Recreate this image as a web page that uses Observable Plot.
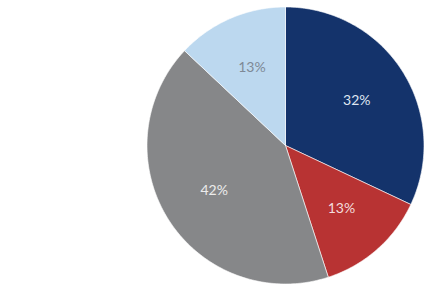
<!DOCTYPE html>
<html>
<head>
<meta charset="utf-8">
<script src="https://cdn.jsdelivr.net/npm/d3@7"></script>
<script src="https://cdn.jsdelivr.net/npm/@observablehq/plot@0.6"></script>
<style>
  html, body { margin: 0; padding: 0; background: #fff; }
  #chart { width: 439px; height: 295px; }
</style>
</head>
<body>
<div id="chart"></div>
<script>
// Data
const categories = ["Segment A", "Segment B", "Segment C", "Segment D"];
const values = [32, 13, 42, 13];
const labels = ["32%", "13%", "42%", "13%"];

// Styles
const colors = ["#14336b", "#b83333", "#868789", "#bcd8ef"];
const labelColors = ["#dfe6f1", "#f3dede", "#ececec", "#7e8996"];

const pie = d3.pie().sort(null).value(d => d.value)(
  categories.map((c, i) => ({category: c, value: values[i], label: labels[i], i}))
);

// Build wedge outlines in unit-circle coordinates (angle clockwise from top)
const wedgePts = [];
for (const p of pie) {
  const id = p.data.category;
  wedgePts.push({category: id, x: 0, y: 0});
  const steps = Math.max(2, Math.ceil((p.endAngle - p.startAngle) / (Math.PI / 180)));
  for (let k = 0; k <= steps; k++) {
    const a = p.startAngle + (p.endAngle - p.startAngle) * k / steps;
    wedgePts.push({category: id, x: Math.sin(a), y: Math.cos(a)});
  }
  wedgePts.push({category: id, x: 0, y: 0});
}

const labelRadius = 0.61;
const labelPts = pie.map(p => {
  const a = (p.startAngle + p.endAngle) / 2;
  return {label: p.data.label, category: p.data.category, x: labelRadius * Math.sin(a), y: labelRadius * Math.cos(a)};
});

const chart = Plot.plot({
  width: 439,
  height: 295,
  marginLeft: 146.5,
  marginRight: 15.5,
  marginTop: 6.5,
  marginBottom: 11.5,
  x: {domain: [-1, 1], axis: null},
  y: {domain: [-1, 1], axis: null},
  color: {domain: categories, range: colors},
  style: {fontFamily: "Lato, 'Open Sans', sans-serif", background: "white"},
  marks: [
    Plot.line(wedgePts, {x: "x", y: "y", z: "category", fill: "category", stroke: "white", strokeWidth: 0.6, curve: "linear"}),
    Plot.text(labelPts, {
      x: "x", y: "y", text: "label",
      fill: d => labelColors[categories.indexOf(d.category)],
      fontSize: 14
    })
  ]
});
document.getElementById("chart").appendChild(chart);
</script>
</body>
</html>
